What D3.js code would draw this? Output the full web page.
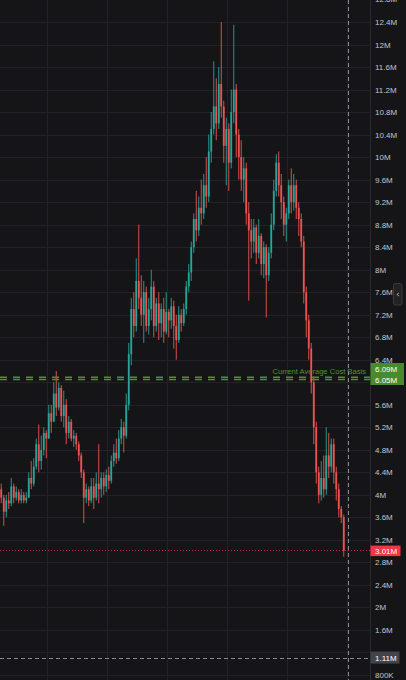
<!DOCTYPE html>
<html><head><meta charset="utf-8">
<script src="https://cdn.jsdelivr.net/npm/d3@7"></script>
<style>html,body{margin:0;padding:0;background:#151517;overflow:hidden}svg{display:block}</style>
</head><body>
<svg id="c" width="406" height="680"></svg>
<script>
// ---- data (price in millions) ----
const firstOpen = 4.1;
const closes = [3.95,3.7,3.9,3.85,4.15,3.95,4.05,3.9,4.0,3.9,3.95,4.3,4.2,4.5,4.9,4.6,4.8,5.1,5.0,5.45,
5.3,5.8,5.55,5.9,5.4,5.6,5.1,5.3,5.0,5.05,4.9,4.7,4.4,3.95,4.1,3.9,4.15,3.95,4.2,4.1,
4.3,4.15,4.35,4.25,4.6,4.75,4.65,5.0,5.2,5.05,5.6,6.5,7.3,7.0,7.8,7.5,7.2,7.6,7.0,7.3,
7.7,7.0,7.4,7.05,7.3,6.9,7.25,7.1,7.35,7.0,6.75,7.2,7.05,7.3,7.7,7.95,8.4,8.9,8.7,9.1,
9.0,9.5,9.3,10.1,10.5,10.9,10.6,11.3,10.9,10.2,10.5,9.9,10.8,11.2,10.4,10.0,9.6,9.8,9.0,8.7,
8.5,8.75,8.3,8.6,8.1,8.4,7.9,8.3,8.8,9.4,9.9,9.5,9.2,8.8,9.0,9.5,9.2,9.5,9.1,8.9,
8.5,7.6,7.1,6.6,6.0,5.2,4.4,4.0,4.3,4.1,4.7,4.5,4.9,4.4,4.1,3.75,3.6,3.01];
const highs = [4.2,4.0,4.0,4.05,4.3,4.2,4.15,4.1,4.1,4.05,4.05,4.4,4.6,4.65,5.0,5.25,5.05,5.2,5.15,5.6,
5.6,6.0,6.2,6.0,5.95,5.85,5.7,5.4,5.35,5.15,5.1,4.95,4.75,4.45,4.2,4.15,4.3,4.3,4.4,4.9,
4.4,4.4,4.45,4.5,4.7,4.9,5.0,5.15,5.35,5.3,5.8,6.7,7.5,7.6,8.2,8.8,7.9,7.8,7.7,7.5,
8.0,7.8,7.5,7.6,7.4,7.5,7.6,7.3,7.5,7.45,7.2,7.35,7.3,7.4,7.8,8.1,8.5,9.0,9.4,9.3,
9.6,9.7,10.0,10.4,10.8,11.7,11.4,11.6,12.4,11.0,10.7,10.6,11.2,12.35,11.3,10.5,10.3,10.0,9.9,9.2,
8.9,8.9,8.8,8.9,8.65,8.5,8.45,8.4,9.0,9.6,10.05,10.1,9.7,9.3,9.1,9.6,9.8,9.7,9.6,9.2,
9.0,8.6,7.7,7.2,6.7,6.1,5.3,4.5,4.6,4.7,5.2,5.1,5.0,5.0,4.5,4.2,3.8,3.65];
const lows = [3.85,3.45,3.6,3.75,3.8,3.85,3.9,3.85,3.85,3.85,3.85,3.95,4.1,4.15,4.45,4.4,4.45,4.7,4.65,5.0,
5.1,5.3,5.4,5.5,5.3,5.2,4.9,5.0,4.95,4.85,4.8,4.6,4.3,3.5,3.85,3.8,3.85,3.75,3.9,3.85,
3.95,4.0,4.05,4.1,4.2,4.5,4.55,4.6,4.9,4.75,5.0,5.5,6.3,6.8,6.9,7.3,7.0,6.7,6.9,6.85,
7.1,6.8,6.9,6.75,6.8,6.7,6.85,6.8,6.95,6.6,6.4,6.7,6.9,7.0,7.2,7.6,7.8,8.3,8.5,8.6,
8.8,8.9,9.1,9.2,9.9,10.4,10.3,10.5,10.7,9.9,9.5,9.4,9.8,10.6,10.0,9.6,9.4,9.2,8.8,7.45,
8.2,8.3,8.1,8.2,7.9,7.85,7.15,7.8,8.2,8.7,9.3,9.3,8.9,8.6,8.5,8.9,9.0,9.05,8.9,8.6,
8.4,7.4,6.8,6.4,5.8,4.9,4.2,3.85,3.9,3.95,4.0,4.3,4.4,4.2,3.9,3.6,3.5,2.9];
const tickValues = [0.8,1.2,1.6,2.0,2.4,2.8,3.2,3.6,4.0,4.4,4.8,5.2,5.6,6.0,6.4,6.8,7.2,7.6,8.0,8.4,8.8,9.2,9.6,10.0,10.4,10.8,11.2,11.6,12.0,12.4,12.8];
const timeGridIdx = [18.3,42.3,66.3,90.3,114.3,138.3];
const costBasis = [6.09,6.05];
const costBasisLabel = "Current Average Cost Basis";
const lastPrice = 3.01;
const crossPrice = 1.11;
const crossIdx = 138.7;

// ---- layout ----
const W = 406, H = 680, plotR = 370;
const svg = d3.select("#c");
const y = d3.scaleLinear().domain([0.8, 12.4]).range([675, 22]);
const x = d3.scaleLinear().domain([0, closes.length - 1]).range([1.25, 1.25 + 2.5 * (closes.length - 1)]);
const fmt = v => v >= 1 ? (+v.toFixed(2)) + "M" : Math.round(v * 1000) + "K";
const FONT = "Liberation Sans, Arial, sans-serif";

svg.append("rect").attr("width", W).attr("height", H).attr("fill", "#151517");

// grid
const g = svg.append("g");
g.selectAll("line.h").data(tickValues).join("line")
  .attr("x1", 0).attr("x2", plotR).attr("y1", d => Math.round(y(d)) + 0.5).attr("y2", d => Math.round(y(d)) + 0.5)
  .attr("stroke", "#232327").attr("stroke-width", 1);
g.selectAll("line.v").data(timeGridIdx).join("line")
  .attr("x1", d => Math.round(x(d)) + 0.5).attr("x2", d => Math.round(x(d)) + 0.5).attr("y1", 0).attr("y2", H)
  .attr("stroke", "#232327").attr("stroke-width", 1);

// axis separator
svg.append("line").attr("x1", plotR + 0.5).attr("x2", plotR + 0.5).attr("y1", 0).attr("y2", H)
  .attr("stroke", "#2a2a2e");

// candles
const candles = closes.map((c, i) => ({ i, o: i === 0 ? firstOpen : closes[i - 1], c, h: highs[i], l: lows[i] }));
const up = "#26a69a", dn = "#ef5350";
const cg = svg.append("g");
cg.selectAll("line.w").data(candles).join("line")
  .attr("x1", d => x(d.i)).attr("x2", d => x(d.i))
  .attr("y1", d => y(d.h)).attr("y2", d => y(d.l))
  .attr("stroke", d => d.c >= d.o ? up : dn).attr("stroke-width", 0.9);
cg.selectAll("rect").data(candles).join("rect")
  .attr("x", d => x(d.i) - 0.9).attr("width", 1.8)
  .attr("y", d => y(Math.max(d.o, d.c)))
  .attr("height", d => Math.max(1, Math.abs(y(d.o) - y(d.c))))
  .attr("fill", d => d.c >= d.o ? up : dn);

// cost basis lines
svg.selectAll("line.cb").data(costBasis).join("line")
  .attr("x1", 0).attr("x2", plotR).attr("y1", d => y(d)).attr("y2", d => y(d))
  .attr("stroke", "#4f8f2f").attr("stroke-width", 1.4).attr("stroke-dasharray", "7,6");
svg.append("text").attr("x", 366).attr("y", 374).attr("text-anchor", "end")
  .attr("font-family", FONT).attr("font-size", 7.6)
  .attr("fill", "#50902f").text(costBasisLabel);

// last price line
svg.append("line").attr("x1", 0).attr("x2", plotR).attr("y1", y(lastPrice)).attr("y2", y(lastPrice))
  .attr("stroke", "#f23645").attr("stroke-width", 1).attr("stroke-dasharray", "1,2").attr("opacity", 0.85);

// crosshair
svg.append("line").attr("x1", 0).attr("x2", plotR).attr("y1", Math.round(y(crossPrice)) + 0.5).attr("y2", Math.round(y(crossPrice)) + 0.5)
  .attr("stroke", "#8a8a90").attr("stroke-width", 1).attr("stroke-dasharray", "4,3");
svg.append("line").attr("x1", Math.round(x(crossIdx)) + 0.5).attr("x2", Math.round(x(crossIdx)) + 0.5).attr("y1", 0).attr("y2", H)
  .attr("stroke", "#8a8a90").attr("stroke-width", 1).attr("stroke-dasharray", "4,3");

// axis labels (those hidden behind the price tags are skipped)
const tagPrices = costBasis.concat([lastPrice, crossPrice]);
const visibleTicks = tickValues.filter(v => tagPrices.every(p => Math.abs(y(v) - y(p)) > 9));
svg.selectAll("text.t").data(visibleTicks).join("text")
  .attr("x", 375).attr("y", d => y(d) + 3)
  .attr("font-family", FONT).attr("font-size", 8)
  .attr("fill", "#c3c5cb").text(d => fmt(d));

// price tags
function tag(v, fill, yy, sz) {
  svg.append("rect").attr("x", 370.5).attr("y", yy).attr("width", sz.w).attr("height", sz.h).attr("fill", fill);
  svg.append("text").attr("x", 375).attr("y", yy + sz.h / 2 + 3)
    .attr("font-family", FONT).attr("font-size", 8).attr("fill", "#ffffff").text(fmt(v));
}
svg.append("rect").attr("x", 370.5).attr("y", 363).attr("width", 33.5).attr("height", 22).attr("fill", "#4a8a2e");
svg.selectAll("text.cbl").data(costBasis).join("text")
  .attr("x", 375).attr("y", (d, i) => 371.5 + i * 11)
  .attr("font-family", FONT).attr("font-size", 8).attr("fill", "#ffffff").text(d => fmt(d));
tag(lastPrice, "#f23645", y(lastPrice) - 5, { w: 30, h: 10.5 });
tag(crossPrice, "#43444a", y(crossPrice) - 6, { w: 29, h: 12 });

// collapse button
svg.append("rect").attr("x", 393.5).attr("y", 283.5).attr("width", 8.5).attr("height", 21.5).attr("rx", 2)
  .attr("fill", "#222226").attr("stroke", "#3a3a40");
svg.append("text").attr("x", 397.8).attr("y", 297).attr("text-anchor", "middle")
  .attr("font-family", "DejaVu Sans, sans-serif").attr("font-size", 8).attr("fill", "#c3c5cb").text("‹");
</script>
</body></html>
